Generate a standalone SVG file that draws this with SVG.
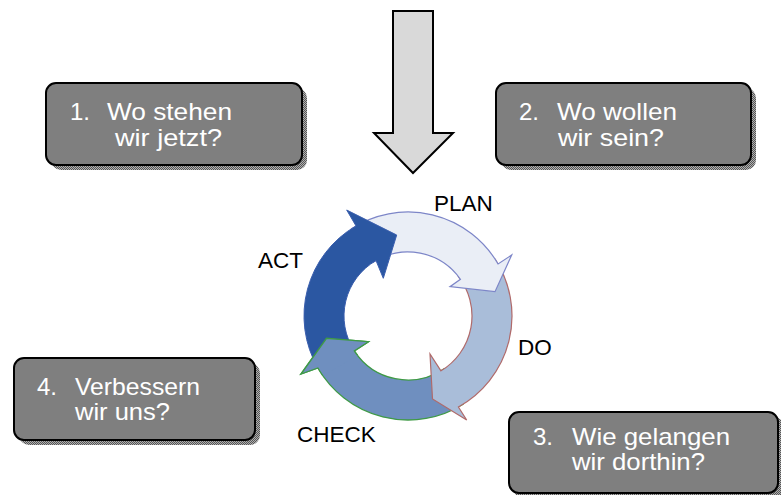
<svg xmlns="http://www.w3.org/2000/svg" width="781" height="495" viewBox="0 0 781 495">
  <style>
    .box { fill: #7f7f7f; stroke: #000; stroke-width: 2; }
    .shadow { fill: url(#dither); }
    .bt { font-family: "Liberation Sans", Arial, sans-serif; font-size: 24px; fill: #ffffff; }
    .lbl { font-family: "Liberation Sans", Arial, sans-serif; font-size: 22.5px; fill: #000000; }
  </style>
  <defs>
    <pattern id="dither" width="2" height="2" patternUnits="userSpaceOnUse">
      <rect width="2" height="2" fill="#b0b0b0"/>
      <rect width="1" height="1" fill="#555555"/>
      <rect x="1" y="1" width="1" height="1" fill="#555555"/>
    </pattern>
  </defs>
  <rect width="781" height="495" fill="#ffffff"/>

  <g id="down-arrow">
    <polygon points="393,11 433,11 433,133 453,133 413,173 374,133 393,133" fill="#d9d9d9" stroke="#000" stroke-width="2" stroke-linejoin="miter"/>
  </g>

  <g id="box1">
    <rect class="shadow" x="51" y="88" width="256" height="82" rx="10"/>
    <rect class="box" x="46" y="83" width="256" height="82" rx="10"/>
    <text class="bt" x="70" y="120">1.</text>
    <text class="bt" x="107" y="120" textLength="125" lengthAdjust="spacingAndGlyphs">Wo stehen</text>
    <text class="bt" x="115" y="146" textLength="107" lengthAdjust="spacingAndGlyphs">wir jetzt?</text>
  </g>

  <g id="box2">
    <rect class="shadow" x="501" y="88" width="255" height="82" rx="10"/>
    <rect class="box" x="496" y="83" width="255" height="82" rx="10"/>
    <text class="bt" x="519" y="120">2.</text>
    <text class="bt" x="557" y="120" textLength="120" lengthAdjust="spacingAndGlyphs">Wo wollen</text>
    <text class="bt" x="558" y="146" textLength="106" lengthAdjust="spacingAndGlyphs">wir sein?</text>
  </g>

  <g id="box4">
    <rect class="shadow" x="19" y="363" width="241" height="82" rx="10"/>
    <rect class="box" x="14" y="358" width="241" height="82" rx="10"/>
    <text class="bt" x="37" y="395">4.</text>
    <text class="bt" x="75" y="395" textLength="125" lengthAdjust="spacingAndGlyphs">Verbessern</text>
    <text class="bt" x="75" y="420" textLength="95" lengthAdjust="spacingAndGlyphs">wir uns?</text>
  </g>

  <g id="box3">
    <rect class="shadow" x="514" y="417" width="270" height="82" rx="10"/>
    <rect class="box" x="509" y="412" width="269" height="81" rx="10"/>
    <text class="bt" x="533" y="445">3.</text>
    <text class="bt" x="572" y="445" textLength="158" lengthAdjust="spacingAndGlyphs">Wie gelangen</text>
    <text class="bt" x="572" y="470" textLength="133" lengthAdjust="spacingAndGlyphs">wir dorthin?</text>
  </g>

  <g id="cycle">
    <g id="check">
      <path d="M463.11,404.19 A104,104 0 0 1 317.93,368 L301,374 L326.5,338.3 L368.5,341.7 L354.32,350.85 A64,64 0 0 0 443.79,369.06 Z" fill="#6f8fbf" stroke="#3f9a46" stroke-width="1.3" stroke-linejoin="miter"/>
    </g>
    <g id="do">
      <path d="M495.22,259.36 A104,104 0 0 1 458.42,406.96 L466.7,420 L432.5,399 L430,354 L440.96,370.86 A64,64 0 0 0 458.43,276.6 Z" fill="#a9bdd9" stroke="#b06a6a" stroke-width="1.2"/>
    </g>
    <g id="plan">
      <path d="M351.36,228.78 A104,104 0 0 1 498.07,264 L511.7,255 L495,291.7 L450,286.7 L460.43,279.29 A64,64 0 0 0 373.15,262.32 Z" fill="#eaeef6" stroke="#7d86c8" stroke-width="1.2"/>
    </g>
    <g id="act">
      <path d="M317.93,368 A104,104 0 0 1 356,225.93 L346.7,210 L396.7,235 L383.3,278.3 L376,260.57 A64,64 0 0 0 354.32,350.85 Z" fill="#2b57a2" stroke="#3a5eae" stroke-width="1"/>
    </g>
    <g id="check-head">
      <path d="M322.8,375.65 A104,104 0 0 1 317.93,368 L301,374 L326.5,338.3 L368.5,341.7 L354.32,350.85 A64,64 0 0 0 357.57,355.4 Z" fill="#6f8fbf" stroke="none"/>
      <path d="M322.8,375.65 A104,104 0 0 1 317.93,368 L301,374 L326.5,338.3 L368.5,341.7 L354.32,350.85 A64,64 0 0 0 357.57,355.4" fill="none" stroke="#3f9a46" stroke-width="1.3"/>
    </g>
  </g>

  <g id="labels">
    <text class="lbl" x="258" y="268">ACT</text>
    <text class="lbl" x="434" y="211">PLAN</text>
    <text class="lbl" x="518" y="355">DO</text>
    <text class="lbl" x="297" y="442">CHECK</text>
  </g>
</svg>
